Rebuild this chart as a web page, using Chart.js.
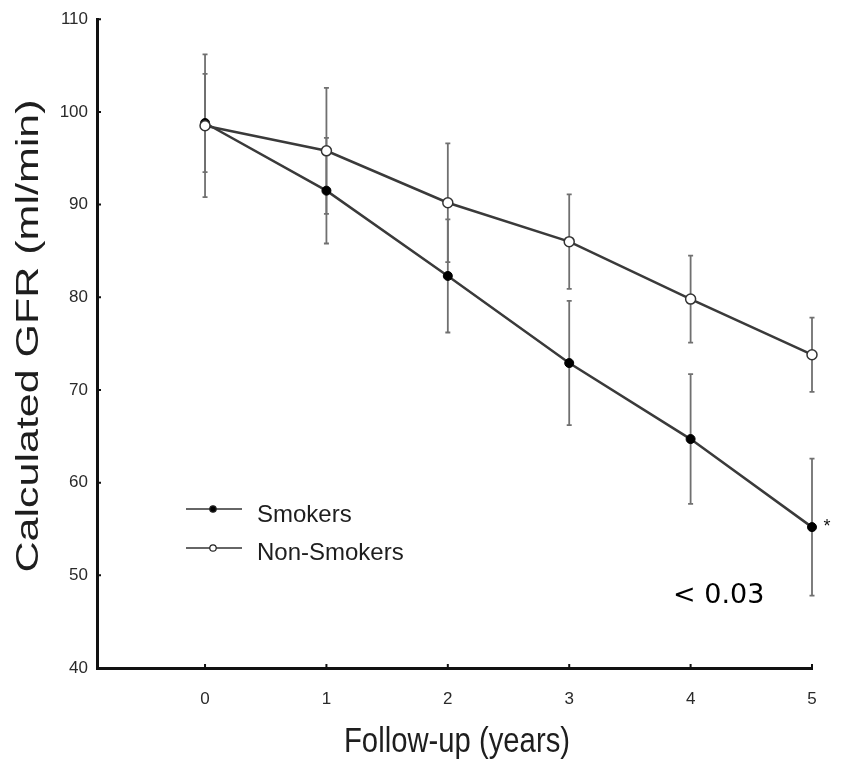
<!DOCTYPE html>
<html>
<head>
<meta charset="utf-8">
<title>Calculated GFR</title>
<script src="https://cdn.jsdelivr.net/npm/chart.js@4.4.1/dist/chart.umd.min.js"></script>
<style>
  html, body { margin: 0; padding: 0; background: #fff; }
  #wrap { width: 850px; height: 762px; position: relative; }
</style>
</head>
<body>
<div id="wrap"><canvas id="gfr"></canvas></div>
<script>
// ---- data ----
const years         = [0, 1, 2, 3, 4, 5];
const smokers       = [98.8, 91.5, 82.3, 72.9, 64.7, 55.2];
const smokersErr    = [5.3, 5.7, 6.1, 6.7, 7.0, 7.4];
const nonSmokers    = [98.5, 95.8, 90.2, 86.0, 79.8, 73.8];
const nonSmokersErr = [7.7, 6.8, 6.4, 5.1, 4.7, 4.0];
const yTicks        = [40, 50, 60, 70, 80, 90, 100, 110];

const INK = '#1e1e1e';
const LINE = '#3a3a3a';
const SANS = "'Liberation Sans', Arial, sans-serif";
const TICKFONT = "'Liberation Sans Narrow', 'Liberation Sans', Arial, sans-serif";

const pts = arr => years.map((x, i) => ({ x, y: arr[i] }));

// text squeezed/stretched to a given length along its direction
function fitText(ctx, txt, x, y, font, width, rot) {
  ctx.save();
  ctx.font = font;
  const w = ctx.measureText(txt).width;
  ctx.translate(x, y);
  if (rot) ctx.rotate(rot);
  ctx.scale(width / w, 1);
  ctx.textAlign = 'center';
  ctx.textBaseline = 'alphabetic';
  ctx.fillText(txt, 0, 0);
  ctx.restore();
}

// error bars, drawn under the lines and markers
const errorBars = {
  id: 'errorBars',
  beforeDatasetsDraw(chart) {
    const { ctx, scales: { x, y } } = chart;
    const sets = [[smokers, smokersErr], [nonSmokers, nonSmokersErr]];
    ctx.save();
    ctx.strokeStyle = '#707070';
    ctx.lineWidth = 1.8;
    sets.forEach(([vals, errs]) => {
      years.forEach((yr, i) => {
        const px = x.getPixelForValue(yr);
        const top = y.getPixelForValue(vals[i] + errs[i]);
        const bot = y.getPixelForValue(vals[i] - errs[i]);
        ctx.beginPath();
        ctx.moveTo(px, top); ctx.lineTo(px, bot);
        ctx.moveTo(px - 2.5, top); ctx.lineTo(px + 2.5, top);
        ctx.moveTo(px - 2.5, bot); ctx.lineTo(px + 2.5, bot);
        ctx.stroke();
      });
    });
    ctx.restore();
  }
};

// inside tick marks, axis titles, legend, notes
const decor = {
  id: 'decor',
  afterDraw(chart) {
    const { ctx, chartArea: a, scales: { x, y } } = chart;
    ctx.save();
    ctx.strokeStyle = '#111';
    ctx.lineWidth = 2;
    ctx.beginPath();
    yTicks.forEach(v => {
      const py = y.getPixelForValue(v);
      ctx.moveTo(a.left, py); ctx.lineTo(a.left + 4, py);
    });
    years.forEach(v => {
      const px = x.getPixelForValue(v);
      ctx.moveTo(px, a.bottom); ctx.lineTo(px, a.bottom - 4);
    });
    ctx.stroke();

    ctx.fillStyle = INK;
    fitText(ctx, 'Calculated GFR (ml/min)', 38, 336, '32px ' + SANS, 473, -Math.PI / 2);
    fitText(ctx, 'Follow-up (years)', 457, 752, '35px ' + SANS, 226, 0);

    // legend
    const ds = chart.data.datasets;
    const rows = [[ds[0], 509, 522], [ds[1], 548, 560]];
    rows.forEach(([d, ly, by]) => {
      ctx.strokeStyle = '#666';
      ctx.lineWidth = 2;
      ctx.beginPath();
      ctx.moveTo(186, ly); ctx.lineTo(242, ly);
      ctx.stroke();
      ctx.beginPath();
      ctx.arc(213, ly, 3.2, 0, Math.PI * 2);
      ctx.fillStyle = d.pointBackgroundColor;
      ctx.fill();
      ctx.lineWidth = 1.2;
      ctx.strokeStyle = '#222';
      ctx.stroke();
      ctx.fillStyle = INK;
      ctx.font = '24px ' + SANS;
      ctx.textAlign = 'left';
      ctx.textBaseline = 'alphabetic';
      ctx.fillText(d.label, 257, by);
    });

    // significance marks
    ctx.fillStyle = '#111';
    ctx.font = '18px ' + SANS;
    ctx.textAlign = 'center';
    ctx.fillText('*', 827, 532);
    ctx.fillStyle = '#000';
    ctx.font = "27px 'DejaVu Sans', sans-serif";
    ctx.textAlign = 'left';
    ctx.fillText('< 0.03', 673, 603);
    ctx.restore();
  }
};

new Chart(document.getElementById('gfr'), {
  type: 'line',
  data: {
    datasets: [
      { label: 'Smokers', data: pts(smokers), order: 2, clip: false,
        borderColor: LINE, borderWidth: 2.5, tension: 0,
        pointRadius: 4.5, pointBackgroundColor: '#000', pointBorderColor: '#000', pointBorderWidth: 1 },
      { label: 'Non-Smokers', data: pts(nonSmokers), order: 1, clip: false,
        borderColor: LINE, borderWidth: 2.5, tension: 0,
        pointRadius: 5, pointBackgroundColor: '#fff', pointBorderColor: '#333', pointBorderWidth: 1.5 }
    ]
  },
  options: {
    responsive: true, maintainAspectRatio: false, animation: false,
    layout: { padding: { left: 0, right: 38, top: 17, bottom: 0 } },
    plugins: { legend: { display: false }, tooltip: { enabled: false } },
    scales: {
      x: {
        type: 'linear', min: -0.89, max: 5,
        afterBuildTicks: s => { s.ticks = years.map(v => ({ value: v })); },
        afterFit: s => { s.height = 94; },
        grid: { drawOnChartArea: false, drawTicks: false },
        border: { color: '#111', width: 3 },
        ticks: { color: '#2a2a2a', padding: 21, font: { family: TICKFONT, size: 17 } }
      },
      y: {
        min: 40, max: 110,
        afterBuildTicks: s => { s.ticks = yTicks.map(v => ({ value: v })); },
        afterFit: s => { s.width = 97; },
        grid: { drawOnChartArea: false, drawTicks: false },
        border: { color: '#111', width: 3 },
        ticks: { color: '#2a2a2a', padding: 9, font: { family: TICKFONT, size: 17 } }
      }
    }
  },
  plugins: [errorBars, decor]
});
</script>
</body>
</html>
